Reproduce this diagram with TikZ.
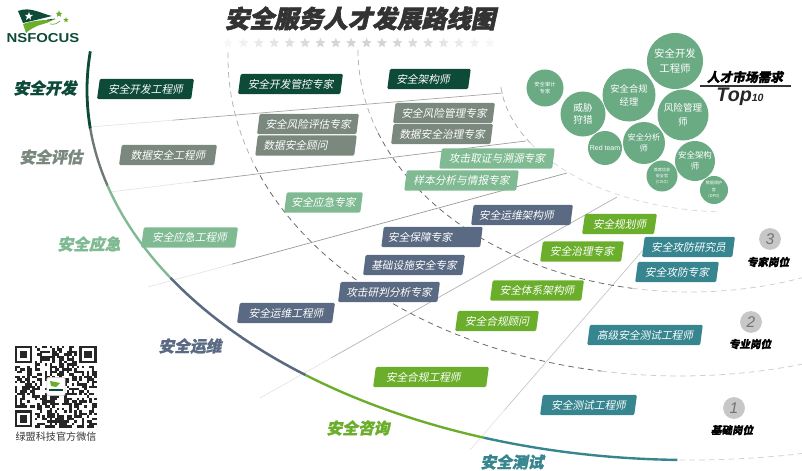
\documentclass[tikz,border=0pt]{standalone}
\usepackage{fontspec}
\usetikzlibrary{shapes.geometric,calc}
\setmainfont{Liberation Sans}
\newfontfamily\cjk{Noto Sans CJK SC}
\newfontfamily\cjkslant[FakeSlant=0.2]{Noto Sans CJK SC}
\newfontfamily\cjkheavy[FakeSlant=0.2,BoldFeatures={FakeBold=1.2}]{Noto Sans CJK SC}
\newfontfamily\cjktitle[FakeSlant=0.22,BoldFeatures={FakeBold=2.4}]{Noto Sans CJK SC}

\definecolor{devgreen}{HTML}{0E4A38}
\definecolor{evalgrey}{HTML}{7A887E}
\definecolor{rescuegreen}{HTML}{7FBA92}
\definecolor{opsslate}{HTML}{5A6A82}
\definecolor{advisegreen}{HTML}{6BAE2C}
\definecolor{testteal}{HTML}{36858F}
\definecolor{bubblegreen}{HTML}{6BAB84}
\definecolor{titleink}{HTML}{333333}

\tikzset{
    rolebox/.style={trapezium, trapezium left angle=77, trapezium right angle=103,
        trapezium stretches=true, inner sep=0pt, rounded corners=1pt, minimum height=14.5pt,
        text=white, font=\cjkslant\fontsize{7.6}{9}\selectfont},
    boxw/.style={minimum width=#1*0.025cm},
    bubble/.style={circle, fill=bubblegreen, inner sep=0pt, text=white, align=center,
        minimum size=#1*0.05cm},
    trackname/.style={font=\cjkheavy\bfseries\fontsize{11.2}{13}\selectfont},
    levelmark/.style={circle, fill=black!22, text=black!55, inner sep=0pt, minimum size=15.5pt,
        font=\itshape\fontsize{11}{11}\selectfont},
    levelname/.style={font=\cjkheavy\bfseries\fontsize{7.5}{9}\selectfont, text=black},
    sepline/.style={line width=0.5pt},
    ringline/.style={line width=0.55pt, dash pattern=on 4pt off 3pt}
}

\begin{document}
\begin{tikzpicture}[x=0.025cm,y=-0.025cm]
        \useasboundingbox (0,0) rectangle (802,471);

        % Separators between the tracks
        \foreach \ax/\ay/\bx/\by/\shade in {90/127/503/93/35, 110/192/526/141/38, 148/287/567/173/40, 260/398/617/197/30, 470/450/643/250/22} {
            \coordinate (S) at (\ax,\ay);
            \coordinate (E) at (\bx,\by);
            \draw[sepline, black!10] (S) -- ($(S)!0.2!(E)$);
            \draw[sepline, black!\shade] ($(S)!0.2!(E)$) -- (E);
        }

        % Dashed level rings
        \draw[ringline, black!30] plot[domain=181:160, samples=30] ({680+452*cos(\x)},{58+318*sin(\x)});
        \draw[ringline, black!60] plot[domain=160:100, samples=80] ({680+452*cos(\x)},{58+318*sin(\x)});
        \draw[ringline, black!20] plot[domain=100:74, samples=30] ({680+452*cos(\x)},{58+318*sin(\x)});
        \draw[ringline, black!30] plot[domain=180:160, samples=30] ({690+332*cos(\x)},{50+242*sin(\x)});
        \draw[ringline, black!60] plot[domain=160:100, samples=60] ({690+332*cos(\x)},{50+242*sin(\x)});
        \draw[ringline, black!20] plot[domain=100:70, samples=30] ({690+332*cos(\x)},{50+242*sin(\x)});
        \draw[ringline, black!30] plot[domain=175:150, samples=30] ({730+230*cos(\x)},{75+137*sin(\x)});
        \draw[ringline, black!15] plot[domain=150:93, samples=50] ({730+230*cos(\x)},{75+137*sin(\x)});
        \draw[ringline, black!18] plot[domain=91:74, samples=20] ({690+603*cos(\x)},{90+370*sin(\x)});

        % Main track arc
        \draw[devgreen, line width=2pt] plot[domain=186:174, samples=20] ({690+603*cos(\x)},{90+370*sin(\x)});
        \draw[evalgrey!90!black, line width=1.7pt] plot[domain=174:165, samples=20] ({690+603*cos(\x)},{90+370*sin(\x)});
        \draw[rescuegreen, line width=1.7pt] plot[domain=165:149.5, samples=20] ({690+603*cos(\x)},{90+370*sin(\x)});
        \draw[opsslate, line width=1.8pt] plot[domain=149.5:129.6, samples=30] ({690+603*cos(\x)},{90+370*sin(\x)});
        \draw[advisegreen, line width=1.7pt] plot[domain=129.6:110, samples=30] ({690+603*cos(\x)},{90+370*sin(\x)});
        \draw[testteal, line width=1.7pt] plot[domain=110:91.2, samples=30] ({690+603*cos(\x)},{90+370*sin(\x)});

        % Title and stars
        \node[text=titleink, font=\cjktitle\bfseries\fontsize{17.5}{20}\selectfont] (title) at (360,18.5) {安全服务人才发展路线图};
        \foreach \k in {0,...,17} {
            \pgfmathsetmacro{\starshade}{3+14*sin(\k*180/17)}
            \node[star, star points=5, star point ratio=2.2, fill=black!\starshade, inner sep=0pt, minimum size=7.5pt] (star\k) at ({228+15.4*\k},43) {};
        }

        % Track names
        \node[trackname, text=devgreen] (trackDev) at (45,88) {安全开发};
        \node[trackname, text=evalgrey] (trackEval) at (51,157) {安全评估};
        \node[trackname, text=rescuegreen] (trackRescue) at (89,244) {安全应急};
        \node[trackname, text=opsslate] (trackOps) at (190,346) {安全运维};
        \node[trackname, text=advisegreen] (trackAdvise) at (358,428) {安全咨询};
        \node[trackname, text=testteal] (trackTest) at (512,462) {安全测试};

        % Development roles
        \node[rolebox, fill=devgreen, boxw=97] (dev1) at (145.5,89) {安全开发工程师};
        \node[rolebox, fill=devgreen, boxw=105] (dev2) at (290.5,84) {安全开发管控专家};
        \node[rolebox, fill=devgreen, boxw=84] (dev3) at (429,79) {安全架构师\kern8.5pt};

        % Evaluation roles
        \node[rolebox, fill=evalgrey, boxw=98] (eval1) at (168,155) {数据安全工程师};
        \node[rolebox, fill=evalgrey, boxw=102] (eval2) at (308,124) {安全风险评估专家};
        \node[rolebox, fill=evalgrey, boxw=102] (eval3) at (306,145.5) {数据安全顾问\kern15pt};
        \node[rolebox, fill=evalgrey, boxw=102] (eval4) at (444,113) {安全风险管理专家};
        \node[rolebox, fill=evalgrey, boxw=102] (eval5) at (442,134) {数据安全治理专家};

        % Emergency roles
        \node[rolebox, fill=rescuegreen, boxw=97] (rescue1) at (189.5,237.5) {安全应急工程师};
        \node[rolebox, fill=rescuegreen, boxw=79] (rescue2) at (323.5,202.5) {安全应急专家};
        \node[rolebox, fill=rescuegreen, boxw=116] (rescue3) at (497,158.5) {攻击取证与溯源专家};
        \node[rolebox, fill=rescuegreen, boxw=115] (rescue4) at (461.5,180.5) {样本分析与情报专家};

        % Operations roles
        \node[rolebox, fill=opsslate, boxw=98] (ops1) at (286,313) {安全运维工程师};
        \node[rolebox, fill=opsslate, boxw=102] (ops2) at (389,292) {攻击研判分析专家};
        \node[rolebox, fill=opsslate, boxw=102] (ops3) at (414,265) {基础设施安全专家};
        \node[rolebox, fill=opsslate, boxw=102] (ops4) at (432,237) {安全保障专家\kern17pt};
        \node[rolebox, fill=opsslate, boxw=102] (ops5) at (522,215) {安全运维架构师\kern8pt};

        % Consulting roles
        \node[rolebox, fill=advisegreen, boxw=116] (adv1) at (431,377) {安全合规工程师\kern11pt};
        \node[rolebox, fill=advisegreen, boxw=84] (adv2) at (497,321) {安全合规顾问};
        \node[rolebox, fill=advisegreen, boxw=94] (adv3) at (537,290.5) {安全体系架构师};
        \node[rolebox, fill=advisegreen, boxw=84] (adv4) at (582,251.5) {安全治理专家};
        \node[rolebox, fill=advisegreen, boxw=75] (adv5) at (619.5,224) {安全规划师};

        % Testing roles
        \node[rolebox, fill=testteal, boxw=97] (test1) at (588.5,405) {安全测试工程师};
        \node[rolebox, fill=testteal, boxw=116] (test2) at (645,335) {高级安全测试工程师};
        \node[rolebox, fill=testteal, boxw=84] (test3) at (677,272) {安全攻防专家};
        \node[rolebox, fill=testteal, boxw=93] (test4) at (688.5,247) {安全攻防研究员};

        % Market demand bubbles
        \node[bubble=28, font=\cjk\fontsize{7.4}{10}\selectfont] (bubDev) at (675,61) {安全开发\\工程师};
        \node[bubble=18.5, font=\cjk\fontsize{3.8}{5.5}\selectfont] (bubAudit) at (545,88) {安全审计\\专家};
        \node[bubble=22.5, font=\cjk\fontsize{6.8}{9}\selectfont] (bubHunt) at (583,114) {威胁\\狩猎};
        \node[bubble=26.5, font=\cjk\fontsize{6.6}{9}\selectfont] (bubComp) at (629,95) {安全合规\\经理};
        \node[bubble=25.5, font=\cjk\fontsize{6.8}{9.5}\selectfont] (bubRisk) at (683,115) {风险管理\\师};
        \node[bubble=17, font=\fontsize{5}{6}\selectfont] (bubRed) at (605,148) {Red team};
        \node[bubble=21, font=\cjk\fontsize{5.8}{8}\selectfont] (bubAnalyst) at (644,143) {安全分析\\师};
        \node[bubble=20, font=\cjk\fontsize{6}{8}\selectfont] (bubArch) at (695,161) {安全架构\\师};
        \node[bubble=15.5, font=\cjk\fontsize{2.9}{4.2}\selectfont] (bubCiso) at (662,176) {首席信息\\安全官\\(CISO)};
        \node[bubble=14, font=\cjk\fontsize{2.9}{4.6}\selectfont] (bubDpo) at (714,190) {数据保护\\官\\(DPO)};

        % Market demand heading
        \node[font=\cjkheavy\bfseries\fontsize{9}{10}\selectfont, text=black] (demand) at (745,77) {人才市场需求};
        \coordinate (ruleL) at (700,86);
        \coordinate (ruleR) at (791,86);
        \draw[black!80, line width=0.9pt] (ruleL) -- (ruleR);
        \node[font=\bfseries\itshape\fontsize{14}{14}\selectfont, text=black!85, inner sep=0pt] (top) at (740,97) {Top\fontsize{7.5}{7.5}\selectfont 10};

        % Level markers
        \node[levelmark] (lvl3) at (770,239) {3};
        \node[levelname] (lvl3name) at (768,262) {专家岗位};
        \node[levelmark] (lvl2) at (751,322) {2};
        \node[levelname] (lvl2name) at (750,344) {专业岗位};
        \node[levelmark] (lvl1) at (734,408) {1};
        \node[levelname] (lvl1name) at (732,430) {基础岗位};

        % Logo
        \fill[devgreen] (18,11) .. controls (30,6) and (42,14) .. (52,16) .. controls (44,18) and (36,20) .. (23,23) -- cycle;
        \fill[white] (29,12) -- (30,15) -- (33,15) -- (30.5,17) -- (31,20) -- (29,18) -- (26,20) -- (27,17) -- (25,15) -- (28,15) -- cycle;
        \fill[advisegreen] (23,24) .. controls (35,20) and (44,20) .. (53,20) .. controls (46,24) and (42,24) .. (37,26) .. controls (33,28) and (29,30) .. (26,33) -- cycle;
        \draw[devgreen, line width=0.5pt] (47,20) -- (55,19);
        \draw[advisegreen, line width=0.5pt] (50,24) .. controls (55,25) and (58,23) .. (60,21);
        \node[star, star point ratio=2.2, fill=advisegreen, inner sep=0pt, minimum size=5pt] (logoStarA) at (59,14) {};
        \node[star, star point ratio=2.2, fill=advisegreen, inner sep=0pt, minimum size=4pt] (logoStarB) at (66,20) {};
        \node[font=\bfseries\fontsize{9.2}{10}\selectfont, text=devgreen, xscale=1.15, inner sep=0pt] (logoText) at (43,38.5) {NSFOCUS};

        % QR code
        \pgfmathsetseed{2741}
        \foreach \i in {0,...,32}
            \foreach \j in {0,...,32} {
                \pgfmathrandominteger{\qrbit}{0}{1}
                \ifnum\qrbit=1
                    \fill[black!85] ({15+\i*2.47},{346+\j*2.47}) rectangle +(2.47,2.47);
                \fi
            }
        \foreach \fx/\fy in {15/346, 79.2/346, 15/410.2} {
            \fill[white] ({\fx-2.47},{\fy-2.47}) rectangle +(22.2,22.2);
            \fill[black!85] (\fx,\fy) rectangle +(17.3,17.3);
            \fill[white] ({\fx+2.47},{\fy+2.47}) rectangle +(12.35,12.35);
            \fill[black!85] ({\fx+4.94},{\fy+4.94}) rectangle +(7.41,7.41);
        }
        \node[draw=black!20, fill=white, rounded corners=1pt, inner sep=0pt, minimum size=13pt] (qrLogo) at (56,386.5) {};
        \fill[advisegreen] (50,381) -- (60,383) -- (56,387) -- (51,386) -- cycle;
        \fill[devgreen] (49,389) rectangle (63,391);
        \node[font=\cjk\fontsize{7.2}{9}\selectfont, text=titleink] (qrText) at (56,437) {绿盟科技官方微信};
\end{tikzpicture}
\end{document}
